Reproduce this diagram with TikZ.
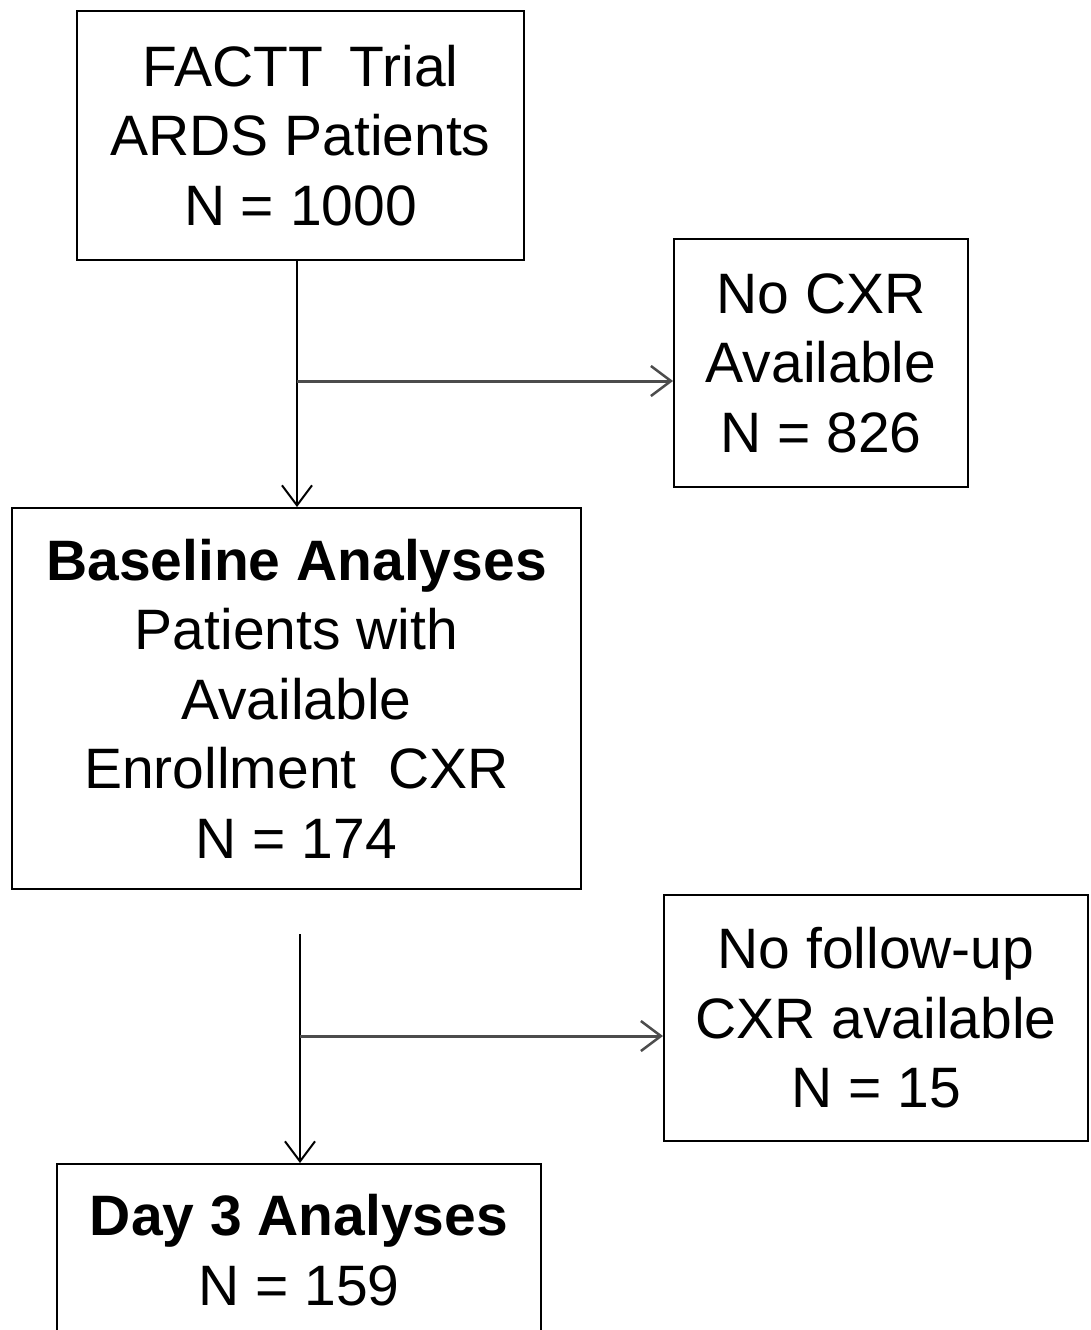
\documentclass[tikz,border=0pt]{standalone}
\usepackage{fontspec}
\setmainfont{Liberation Sans}
\usetikzlibrary{arrows.meta}
\tikzset{
  box/.style={draw=black, line width=2pt, align=center, inner sep=0pt,
    font=\fontsize{57}{69.5}\selectfont, text=black},
  flow/.style={draw=black, line width=2pt, -{Straight Barb[length=20pt,width=30pt,line width=2pt]}},
  side/.style={draw=black!70, line width=3pt, -{Straight Barb[length=20pt,width=30pt,line width=2.5pt]}},
}
\begin{document}
\begin{tikzpicture}[x=1pt,y=-1pt]
\useasboundingbox (0,0) rectangle (1090,1330);
\clip (0,0) rectangle (1090,1330);
\fill[white] (0,0) rectangle (1090,1330);

\node[box, minimum width=447pt, minimum height=249pt] (top) at (300.5,135.5)
  {FACTT\hspace{27pt}Trial\\ARDS Patients\\N = 1000};
\node[box, minimum width=294pt, minimum height=248pt] (nocxr) at (821,363)
  {No CXR\\Available\\N = 826};
\node[box, minimum width=569pt, minimum height=381pt] (base) at (296.5,698.5)
  {\textbf{Baseline Analyses}\\Patients with\\Available\\Enrollment\ \ CXR\\N = 174};
\node[box, minimum width=424pt, minimum height=246pt] (nofu) at (876,1018)
  {No follow-up\\CXR available\\N = 15};
\node[box, minimum width=484pt, minimum height=172pt, anchor=north] (day3) at (299,1163)
  {\textbf{Day 3 Analyses}\\N = 159};

\coordinate (j1) at (297,381);
\coordinate (s2) at (300,934);
\coordinate (j2) at (300,1036);

\draw[flow] (top.south -| j1) -- (j1 |- base.north);
\draw[side] (j1) -- (nocxr.west |- j1);
\draw[flow] (s2) -- (s2 |- day3.north);
\draw[side] (j2) -- (nofu.west |- j2);
\end{tikzpicture}
\end{document}
